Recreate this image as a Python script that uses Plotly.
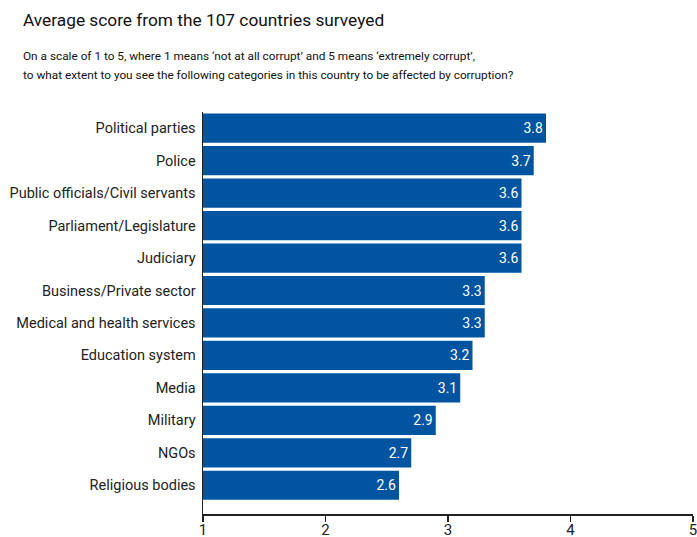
import plotly.graph_objects as go

categories = ["Political parties", "Police", "Public officials/Civil servants",
              "Parliament/Legislature", "Judiciary", "Business/Private sector",
              "Medical and health services", "Education system", "Media",
              "Military", "NGOs", "Religious bodies"]
scores = [3.8, 3.7, 3.6, 3.6, 3.6, 3.3, 3.3, 3.2, 3.1, 2.9, 2.7, 2.6]
x_ticks = [1, 2, 3, 4, 5]

cats_b = categories[::-1]
vals_b = scores[::-1]

W, H = 697, 537
pl, pr, pt, pb = 202.6, 4.0, 111.7, 22.7

fig = go.Figure(go.Bar(
    y=cats_b, x=[v - 1 for v in vals_b], base=1, orientation="h",
    marker=dict(color="#0054A0", line=dict(width=0)),
    text=[f"{v:.1f}" for v in vals_b], textposition="inside",
    insidetextanchor="end",
    textfont=dict(color="white", size=14, family="Roboto"),
    hoverinfo="skip",
))

fig.update_layout(
    width=W, height=H,
    margin=dict(l=pl, r=pr, t=pt, b=pb, autoexpand=False),
    plot_bgcolor="white", paper_bgcolor="white",
    bargap=0.1, showlegend=False,
    xaxis=dict(range=[1, 5], tickvals=x_ticks, showgrid=False, zeroline=False,
               automargin=False, ticklabeloverflow="allow",
               showline=True, linecolor="#222", linewidth=1.5,
               ticks="outside", ticklen=6, tickcolor="#222", tickwidth=1.5,
               ticklabelstandoff=-5,
               tickfont=dict(size=15, color="#222", family="Roboto")),
    yaxis=dict(range=[-0.886, 11.5], showgrid=False, zeroline=False,
               automargin=False,
               showline=True, linecolor="#222", linewidth=1.5,
               ticks="", ticklabelstandoff=3,
               tickfont=dict(size=14.5, color="#222", family="Roboto")),
)

def px(xp): return (xp - pl) / (W - pl - pr)
def py(yp): return (H - pb - yp) / (H - pt - pb)

headers = [
    ("Average score from the 107 countries surveyed", 20, 20, 17.3),
    ("On a scale of 1 to 5, where 1 means ‘not at all corrupt’ and 5 means ‘extremely corrupt’,", 20, 55.5, 11.8),
    ("to what extent to you see the following categories in this country to be affected by corruption?", 20, 75, 11.8),
]
for txt, xx, yy, sz in headers:
    fig.add_annotation(text=txt, xref="paper", yref="paper", x=px(xx), y=py(yy),
                       xanchor="left", yanchor="middle", showarrow=False,
                       font=dict(size=sz, color="#111", family="Roboto"))

fig.write_html("out.html",
               config={"displayModeBar": False, "staticPlot": True},
               post_script="document.body.style.margin='0';"
                           "document.documentElement.style.overflow='hidden';"
                           "document.body.style.overflow='hidden';")
